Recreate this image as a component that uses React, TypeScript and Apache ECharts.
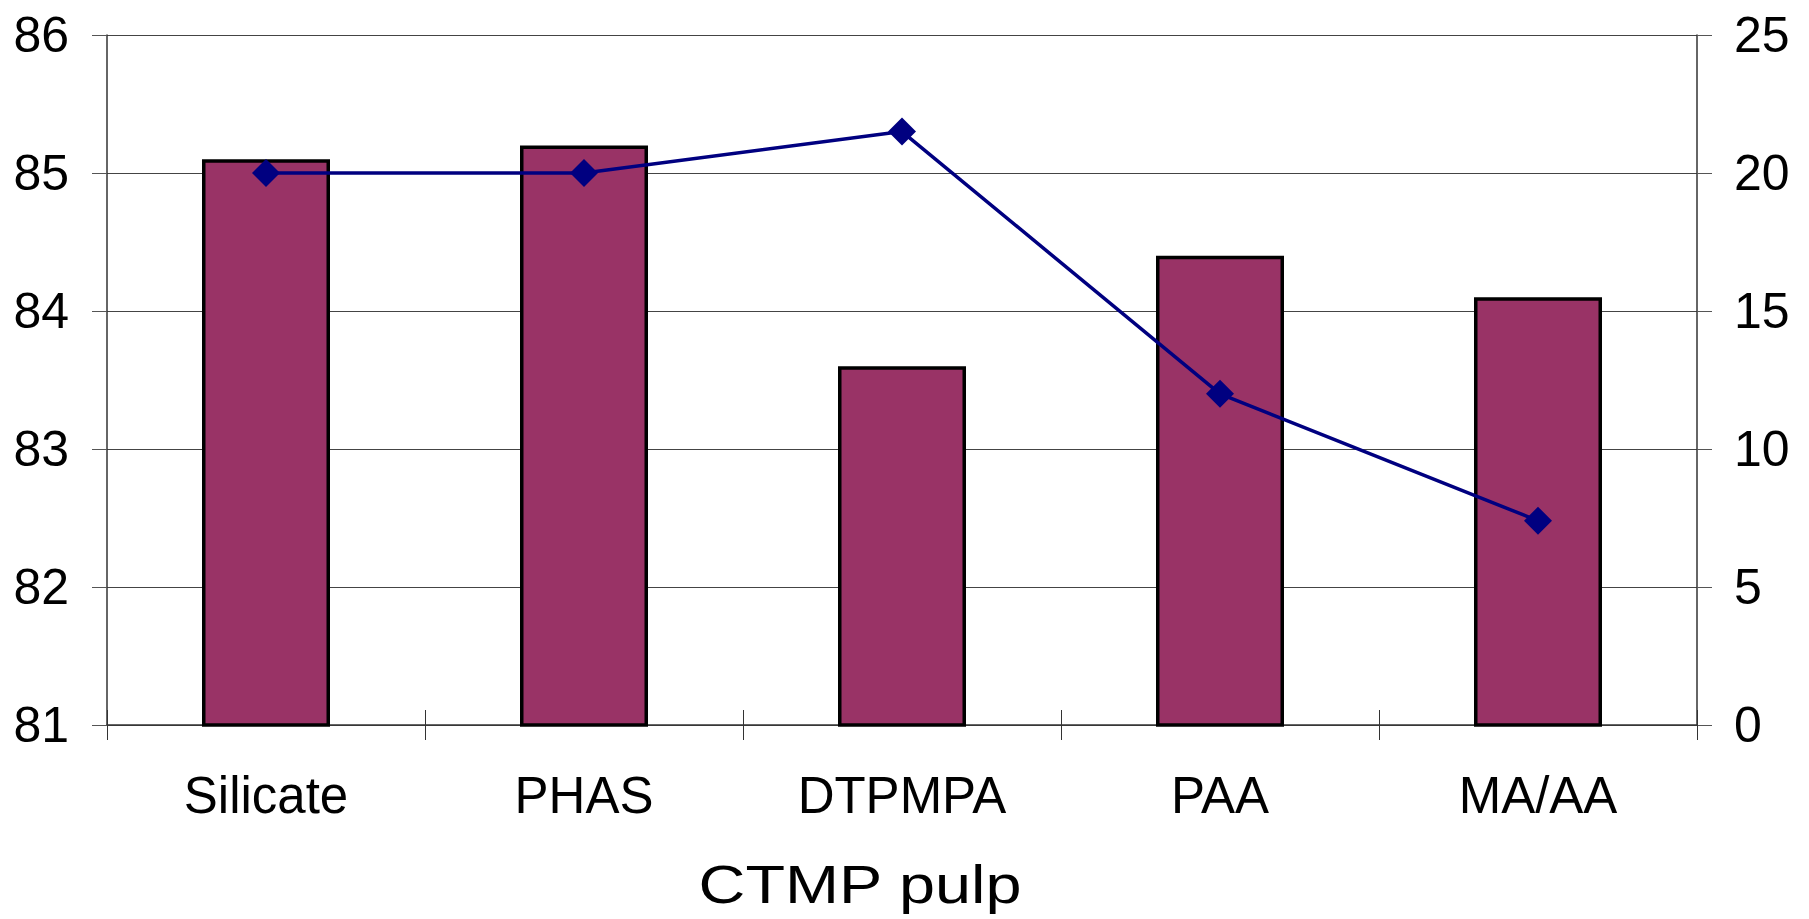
import React, { useEffect, useRef } from "react";
import * as echarts from "echarts";

const categories = ["Silicate", "PHAS", "DTPMPA", "PAA", "MA/AA"];
const barValues = [85.1, 85.2, 83.6, 84.4, 84.1];
const lineValues = [20, 20, 21.5, 12, 7.4];
const leftAxis = { min: 81, max: 86, interval: 1 };
const rightAxis = { min: 0, max: 25, interval: 5 };
const xTitle = "CTMP pulp";

const FONT = "'Liberation Sans', Arial, sans-serif";

export default function App() {
  const ref = useRef<HTMLDivElement>(null);
  useEffect(() => {
    if (!ref.current) return;
    const chart = echarts.init(ref.current, null, { renderer: "svg" });
    chart.setOption({
      animation: false,
      backgroundColor: "#ffffff",
      grid: { left: 107, right: 112, top: 35, bottom: 194, containLabel: false },
      xAxis: [
        {
          type: "category",
          data: categories,
          position: "bottom",
          axisLine: { show: true, lineStyle: { color: "#333", width: 1.5 } },
          axisTick: { show: true, inside: false, length: 15, lineStyle: { color: "#333", width: 1 } },
          axisLabel: { color: "#000", fontSize: 51, fontFamily: FONT, margin: 45 },
          splitLine: { show: false },
        },
        {
          type: "category",
          data: categories,
          position: "bottom",
          axisLine: { show: false },
          axisTick: { show: true, inside: true, length: 15, lineStyle: { color: "#333", width: 1 } },
          axisLabel: { show: false },
          splitLine: { show: false },
        },
      ],
      yAxis: [
        {
          type: "value",
          position: "left",
          min: leftAxis.min,
          max: leftAxis.max,
          interval: leftAxis.interval,
          axisLine: { show: true, lineStyle: { color: "#333", width: 1.5 } },
          axisTick: { show: true, inside: false, length: 15, lineStyle: { color: "#555", width: 1 } },
          axisLabel: { color: "#000", fontSize: 50, fontFamily: FONT, margin: 38 },
          splitLine: { show: true, lineStyle: { color: "#444", width: 1.2 } },
        },
        {
          type: "value",
          position: "right",
          min: rightAxis.min,
          max: rightAxis.max,
          interval: rightAxis.interval,
          axisLine: { show: true, lineStyle: { color: "#333", width: 1.5 } },
          axisTick: { show: true, inside: false, length: 15, lineStyle: { color: "#555", width: 1 } },
          axisLabel: { color: "#000", fontSize: 50, fontFamily: FONT, margin: 37 },
          splitLine: { show: false },
        },
      ],
      series: [
        {
          type: "bar",
          xAxisIndex: 0,
          yAxisIndex: 0,
          data: barValues,
          barWidth: 128,
          itemStyle: { color: "#993366", borderColor: "#000", borderWidth: 3.5 },
          z: 2,
        },
        {
          type: "line",
          xAxisIndex: 0,
          yAxisIndex: 1,
          data: lineValues,
          lineStyle: { color: "#000080", width: 3.5 },
          itemStyle: { color: "#000080" },
          symbol: "diamond",
          symbolSize: 28,
          z: 3,
        },
      ],
      graphic: [
        {
          type: "text",
          x: 860,
          y: 884,
          scaleX: 1.2,
          scaleY: 1,
          style: {
            text: xTitle,
            fontSize: 54,
            fontFamily: FONT,
            fill: "#000",
            textAlign: "center",
            textVerticalAlign: "middle",
          },
        },
      ],
    });
    return () => chart.dispose();
  }, []);
  return (
    <div
      ref={ref}
      style={{ position: "absolute", left: 0, top: 0, width: 1809, height: 919 }}
    />
  );
}
